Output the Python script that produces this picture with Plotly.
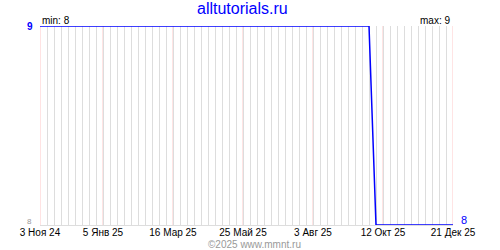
import plotly.graph_objects as go

# data
dates = ["2024-11-03", "2025-09-28", "2025-10-05", "2025-12-21"]
values = [9, 9, 8, 8]
tick_dates = ["2024-11-03", "2025-01-05", "2025-03-16", "2025-05-25",
              "2025-08-03", "2025-10-12", "2025-12-21"]
tick_labels = ["3 Ноя 24", "5 Янв 25", "16 Мар 25", "25 Май 25",
               "3 Авг 25", "12 Окт 25", "21 Дек 25"]
title = "alltutorials.ru"
footer = "©2025 www.mmnt.ru"
y_min, y_max = 8, 9

FONT = "Liberation Sans"
WEEK_MS = 7 * 86400000

fig = go.Figure()
fig.add_trace(go.Scatter(x=[tick_dates[0]], y=[y_min], xaxis="x2", mode="markers",
                         marker=dict(opacity=0), hoverinfo="skip", showlegend=False))
fig.add_trace(go.Scatter(x=dates, y=values, mode="lines",
                         line=dict(color="#0000ff", width=1.5),
                         hoverinfo="skip", showlegend=False))

shapes = [dict(type="line", xref="x", yref="paper", x0=d, x1=d, y0=0, y1=1,
               line=dict(color="#ffc8c8", width=1), layer="between")
          for d in tick_dates]

fig.update_layout(
    width=500, height=250,
    margin=dict(l=40, r=47, t=26, b=25, autoexpand=False),
    paper_bgcolor="white", plot_bgcolor="white",
    shapes=shapes,
    xaxis=dict(
        range=[tick_dates[0], tick_dates[-1]], automargin=False,
        tick0=tick_dates[0], dtick=WEEK_MS, showticklabels=False,
        showgrid=True, gridcolor="#dddddd", gridwidth=1,
        showline=True, linecolor="#dddddd", linewidth=1,
        zeroline=False, ticks="",
    ),
    xaxis2=dict(
        overlaying="x", side="bottom", matches="x",
        range=[tick_dates[0], tick_dates[-1]], automargin=False,
        tickmode="array", tickvals=tick_dates, ticktext=tick_labels,
        showgrid=False, showline=False, zeroline=False, ticks="",
        tickfont=dict(family=FONT, size=10, color="black"),
        ticklabelstandoff=0,
    ),
    yaxis=dict(
        range=[y_min, y_max], showgrid=False, zeroline=False, automargin=False,
        showticklabels=False, ticks="", showline=False,
    ),
    annotations=[
        dict(text=title, x=0.49, y=1, xref="paper", yref="paper",
             xanchor="center", yanchor="middle", showarrow=False,
             font=dict(family=FONT, size=16, color="#0000ff"),
             yshift=18),
        dict(text="min: 8", x=0, y=1, xref="paper", yref="paper",
             xanchor="left", yanchor="bottom", showarrow=False,
             xshift=0, yshift=-2,
             font=dict(family=FONT, size=10, color="black")),
        dict(text="max: 9", x=1, y=1, xref="paper", yref="paper",
             xanchor="right", yanchor="bottom", showarrow=False,
             xshift=-1, yshift=-2,
             font=dict(family=FONT, size=10, color="black")),
        dict(text="<b>" + str(y_max) + "</b>", x=0, y=y_max, xref="paper", yref="y",
             xanchor="right", yanchor="middle", showarrow=False,
             xshift=-5, yshift=0,
             font=dict(family=FONT, size=10, color="#0000ff")),
        dict(text=str(y_min), x=0, y=y_min, xref="paper", yref="y",
             xanchor="right", yanchor="middle", showarrow=False,
             xshift=-6, yshift=4,
             font=dict(family=FONT, size=8, color="#999999")),
        dict(text=str(values[-1]), x=1, y=values[-1], xref="paper", yref="y",
             xanchor="left", yanchor="middle", showarrow=False,
             xshift=6, yshift=5,
             font=dict(family=FONT, size=11, color="#0000ff")),
        dict(text=footer, x=0.52, y=0, xref="paper", yref="paper",
             xanchor="center", yanchor="middle", showarrow=False,
             yshift=-19,
             font=dict(family=FONT, size=10, color="#999999")),
    ],
)

fig.write_html("out.html")
